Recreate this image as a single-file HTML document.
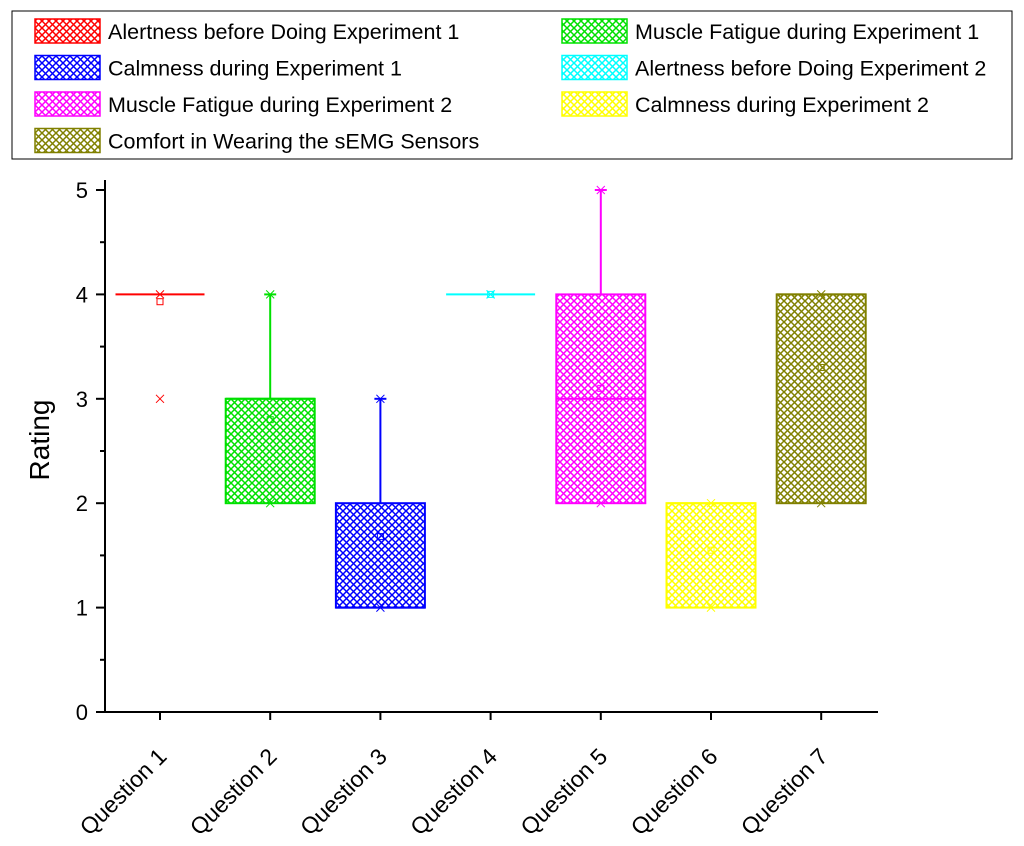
<!DOCTYPE html>
<html><head><meta charset="utf-8"><style>
body{margin:0;background:#fff}
svg{display:block;font-family:"Liberation Sans",Arial,sans-serif}
</style></head><body>
<svg id="chart" width="1024" height="846" viewBox="0 0 1024 846">
<defs id="defs"></defs>
<g id="legend"></g>
<g id="plot"></g>
<g id="axes"></g>
<text x="49" y="440" font-size="28" text-anchor="middle" transform="rotate(-90 49 440)">Rating</text>
</svg>
<script>
const categories=["Question 1","Question 2","Question 3","Question 4","Question 5","Question 6","Question 7"];
const seriesNames=["Alertness before Doing Experiment 1","Muscle Fatigue during Experiment 1","Calmness during Experiment 1","Alertness before Doing Experiment 2","Muscle Fatigue during Experiment 2","Calmness during Experiment 2","Comfort in Wearing the sEMG Sensors"];
const colors=["#ff0000","#00e000","#0000ff","#00ffff","#ff00ff","#ffff00","#808000"];
const q1s=[4,2,1,4,2,1,2];
const medians=[4,3,1,4,3,2,4];
const q3s=[4,3,2,4,4,2,4];
const whiskLow=[4,2,1,4,2,1,2];
const whiskHigh=[4,4,3,4,5,2,4];
const mins=[3,2,1,4,2,1,2];
const maxs=[4,4,3,4,5,2,4];
const means=[3.93,2.8,1.68,4,3.1,1.55,3.3];
const yTicks=[0,1,2,3,4,5];

const NS="http://www.w3.org/2000/svg";
function mk(tag,attrs,parent){const e=document.createElementNS(NS,tag);for(const k in attrs)e.setAttribute(k,attrs[k]);parent.appendChild(e);return e;}
const X0=105,Y0=712,YUNIT=104.4,XSTEP=110.2,XFIRST=160,BW=89;
const yScale=v=>Y0-v*YUNIT;
const xScale=i=>XFIRST+i*XSTEP;
const defs=document.getElementById('defs'),plot=document.getElementById('plot'),axes=document.getElementById('axes'),legend=document.getElementById('legend');
colors.forEach((c,i)=>{
  const p=mk('pattern',{id:'h'+i,width:7,height:7,patternUnits:'userSpaceOnUse'},defs);
  mk('path',{d:'M0,0L7,7M7,0L0,7M-1,6L1,8M6,-1L8,1',stroke:c,'stroke-width':1.5,fill:'none'},p);
});
function star(x,y,c,g){
  mk('path',{d:`M${x-4},${y-4}L${x+4},${y+4}M${x+4},${y-4}L${x-4},${y+4}`,stroke:c,'stroke-width':1,fill:'none'},g);
}
categories.forEach((cat,i)=>{
  const c=colors[i],x=xScale(i);
  const g=mk('g',{},plot);
  
  
  const top=yScale(q3s[i]),bot=yScale(q1s[i]);
  mk('line',{x1:x,x2:x,y1:yScale(whiskHigh[i]),y2:top,stroke:c,'stroke-width':2},g);
  mk('line',{x1:x,x2:x,y1:bot,y2:yScale(whiskLow[i]),stroke:c,'stroke-width':2},g);
  if(bot-top>0.5){
    mk('rect',{x:x-BW/2,y:top,width:BW,height:bot-top,fill:'url(#h'+i+')',stroke:c,'stroke-width':2},g);
  }
  mk('line',{x1:x-BW/2,x2:x+BW/2,y1:yScale(medians[i]),y2:yScale(medians[i]),stroke:c,'stroke-width':2},g);
  if(whiskHigh[i]>q3s[i]) mk('line',{x1:x-6,x2:x+6,y1:yScale(whiskHigh[i]),y2:yScale(whiskHigh[i]),stroke:c,'stroke-width':2},g);
  star(x,yScale(mins[i]),c,g);
  star(x,yScale(maxs[i]),c,g);
  const m=yScale(means[i]);
  mk('rect',{x:x-3,y:m-3,width:6,height:6,fill:'none',stroke:c,'stroke-width':1},g);
});
mk('line',{x1:X0,x2:X0,y1:180,y2:Y0+1,stroke:'#000','stroke-width':2},axes);
mk('line',{x1:X0-1,x2:878,y1:Y0,y2:Y0,stroke:'#000','stroke-width':2},axes);
yTicks.forEach(v=>{
  const y=yScale(v);
  mk('line',{x1:X0-9,x2:X0,y1:y,y2:y,stroke:'#000','stroke-width':2},axes);
  const t=mk('text',{x:X0-17,y:y+8,'font-size':22,'text-anchor':'end'},axes);t.textContent=v;
  
  
  if(v<5){const y2=yScale(v+0.5);mk('line',{x1:X0-5,x2:X0,y1:y2,y2:y2,stroke:'#000','stroke-width':2},axes);}
});
categories.forEach((cat,i)=>{
  const x=xScale(i);
  mk('line',{x1:x,x2:x,y1:Y0,y2:Y0+8,stroke:'#000','stroke-width':2},axes);
  const t=mk('text',{x:x+8,y:Y0+46,'font-size':23,'text-anchor':'end',transform:`rotate(-45 ${x+8} ${Y0+46})`},axes);
  t.textContent=cat;
  
  
});
mk('rect',{x:12,y:11,width:1000,height:148,fill:'#fff',stroke:'#000','stroke-width':1},legend);
seriesNames.forEach((n,i)=>{
  const col=i%2,row=Math.floor(i/2);
  const sx=col?562:35,sy=19+row*36.5;
  const g=mk('g',{},legend);
  
  
  mk('rect',{x:sx,y:sy,width:65,height:24,fill:'url(#h'+i+')',stroke:colors[i],'stroke-width':1.5},g);
  const t=mk('text',{x:sx+73,y:sy+20,'font-size':21.5},g);t.textContent=n;
});
</script>
</body></html>
